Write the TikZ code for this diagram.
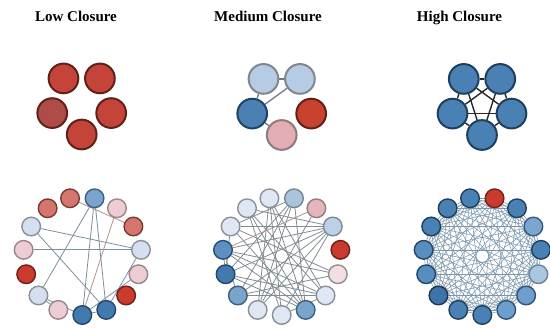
\documentclass[tikz,border=0pt]{standalone}
\usepackage{fontspec}
\setmainfont{Liberation Serif}
\usetikzlibrary{backgrounds}
\definecolor{redF}{HTML}{C4443A}\definecolor{redD}{HTML}{5E2218}
\definecolor{dredF}{HTML}{B04C47}
\definecolor{tblueF}{HTML}{B6CCE4}\definecolor{greyD}{HTML}{7F878D}
\definecolor{tdblueF}{HTML}{4A80B2}\definecolor{blueD}{HTML}{1F4466}
\definecolor{tpinkF}{HTML}{E2ADB3}\definecolor{pinkD}{HTML}{8C7B7C}
\definecolor{hF}{HTML}{4A81B4}\definecolor{hD}{HTML}{1F3F5C}
\tikzset{
  big/.style={circle, minimum size=29.7pt, inner sep=0pt, line width=2pt},
  small/.style={circle, minimum size=18.6pt, inner sep=0pt, line width=1.4pt},
  title/.style={font=\bfseries\fontsize{15}{18}\selectfont, anchor=base},
  dblue/.style={fill={rgb,255:red,66;green,121;blue,174}, draw={rgb,255:red,36;green,70;blue,106}},
  hblue/.style={fill={rgb,255:red,74;green,129;blue,180}, draw={rgb,255:red,31;green,63;blue,92}},
  hblue2/.style={fill={rgb,255:red,86;green,142;blue,192}, draw={rgb,255:red,36;green,70;blue,106}},
  hblue3/.style={fill={rgb,255:red,110;green,158;blue,203}, draw={rgb,255:red,50;green,84;blue,118}},
  hblue4/.style={fill={rgb,255:red,122;green,166;blue,208}, draw={rgb,255:red,56;green,90;blue,124}},
  hblue5/.style={fill={rgb,255:red,169;green,198;blue,226}, draw={rgb,255:red,110;green,130;blue,150}},
  hdark/.style={fill={rgb,255:red,61;green,116;blue,168}, draw={rgb,255:red,28;green,56;blue,86}},
  mblue/.style={fill={rgb,255:red,121;green,164;blue,204}, draw={rgb,255:red,61;green,95;blue,128}},
  m2blue/.style={fill={rgb,255:red,93;green,143;blue,192}, draw={rgb,255:red,40;green,76;blue,110}},
  sblue/.style={fill={rgb,255:red,169;green,196;blue,223}, draw={rgb,255:red,120;green,132;blue,142}},
  s2blue/.style={fill={rgb,255:red,188;green,209;blue,231}, draw={rgb,255:red,128;green,136;blue,144}},
  lblue/.style={fill={rgb,255:red,212;green,224;blue,240}, draw={rgb,255:red,138;green,144;blue,150}},
  wblue/.style={fill={rgb,255:red,223;green,231;blue,244}, draw={rgb,255:red,138;green,144;blue,150}},
  pink/.style={fill={rgb,255:red,236;green,205;blue,211}, draw={rgb,255:red,154;green,133;blue,135}},
  mpink/.style={fill={rgb,255:red,228;green,181;blue,186}, draw={rgb,255:red,150;green,124;blue,126}},
  vpink/.style={fill={rgb,255:red,241;green,223;blue,227}, draw={rgb,255:red,150;green,140;blue,142}},
  rlight/.style={fill={rgb,255:red,212;green,117;blue,111}, draw={rgb,255:red,122;green,58;blue,51}},
  red/.style={fill={rgb,255:red,200;green,59;blue,45}, draw={rgb,255:red,110;green,34;blue,24}},
  edge/.style={draw={rgb,255:red,123;green,143;blue,156}, line width=0.8pt},
  bedge/.style={draw={rgb,255:red,176;green,146;blue,142}, line width=0.8pt},
  medge/.style={draw={rgb,255:red,130;green,140;blue,146}, line width=0.8pt},
  hedge/.style={draw={rgb,255:red,125;green,152;blue,173}, line width=0.55pt},
  tedge/.style={draw={rgb,255:red,111;green,122;blue,128}, line width=1.3pt},
  kedge/.style={draw={rgb,255:red,40;green,40;blue,40}, line width=1.4pt},
}
\begin{document}
\begin{tikzpicture}[x=1pt,y=-1pt]
\useasboundingbox (0,0) rectangle (550,329);
% titles
\node[title] (t1) at (76,22) {Low Closure};
\node[title] (t2) at (268,22) {Medium Closure};
\node[title] (t3) at (459.5,22) {High Closure};
% ---------- top row ----------
\begin{scope}[shift={(81.7,103.5)}]
  \node[big, fill=redF, draw=redD] (a1) at (234:31) {};
  \node[big, fill=redF, draw=redD] (a2) at (306:31) {};
  \node[big, fill=redF, draw=redD] (a3) at (18:31) {};
  \node[big, fill=redF, draw=redD] (a4) at (90:31) {};
  \node[big, fill=dredF, draw=redD] (a5) at (162:31) {};
\end{scope}
\begin{scope}[shift={(281.7,104)}]
  \node[big, fill=tblueF, draw=greyD] (b1) at (234:31) {};
  \node[big, fill=tblueF, draw=greyD] (b2) at (306:31) {};
  \node[big, fill={rgb,255:red,201;green,65;blue,47}, draw=redD] (b3) at (18:31) {};
  \node[big, fill=tpinkF, draw=pinkD] (b4) at (90:31) {};
  \node[big, fill=tdblueF, draw=blueD] (b5) at (162:31) {};
\end{scope}
\begin{pgfonlayer}{background}
  \draw[tedge] (b1) -- (b2);
  \draw[tedge] (b1) -- (b5);
  \draw[tedge] (b2) -- (b5);
  \draw[tedge] (b5) -- (b4);
\end{pgfonlayer}
\begin{scope}[shift={(482,104)}]
  \foreach \i/\a in {1/234,2/306,3/18,4/90,5/162}
    \node[big, fill=hF, draw=hD] (c\i) at (\a:31) {};
\end{scope}
\begin{pgfonlayer}{background}
  \foreach \i/\j in {1/2,1/3,1/4,1/5,2/3,2/4,2/5,3/4,3/5,4/5}
    \draw[kedge] (c\i) -- (c\j);
\end{pgfonlayer}
% ---------- bottom row: low ----------
\begin{scope}[shift={(82.3,256)}]
  \foreach \k/\s in {0/dblue,1/pink,2/lblue,3/red,4/pink,5/lblue,6/rlight,7/rlight,8/mblue,9/pink,10/rlight,11/lblue,12/pink,13/red,14/dblue}
    \node[small,\s] (L\k) at (90+24*\k:59) {};
\end{scope}
\begin{pgfonlayer}{background}
  \foreach \i/\j in {8/0,8/14,8/2,5/11,4/11,5/14,11/14,12/0,2/1,0/14,2/0}
    \draw[edge] (L\i) -- (L\j);
  \foreach \i/\j in {7/10,9/0}
    \draw[bedge] (L\i) -- (L\j);
\end{pgfonlayer}
% ---------- bottom row: medium ----------
\begin{scope}[shift={(281.7,256)}]
  \foreach \k/\s in {0/wblue,1/wblue,2/mblue,3/dblue,4/m2blue,5/wblue,6/wblue,7/wblue,8/sblue,9/mpink,10/s2blue,11/red,12/vpink,13/wblue,14/mblue}
    \node[small,\s] (M\k) at (90+24*\k:59) {};
\end{scope}
\begin{pgfonlayer}{background}
  \foreach \i/\j in {5/10,2/13,4/10,4/13,4/14,3/10,3/13,3/14,2/10,2/8,1/7,1/8,0/7,0/10,14/8,14/6,14/5,13/6,13/7,12/5,12/2,10/6,8/3,6/0,9/1,4/2,3/5,0/13,14/7,12/4,1/10,5/8,3/4}
    \draw[medge] (M\i) -- (M\j);
  \draw[bedge] (M4) -- (M9);
\end{pgfonlayer}
% ---------- bottom row: high ----------
\begin{scope}[shift={(482.3,256)}]
  \foreach \k/\s in {0/hblue,1/hblue,2/hdark,3/hblue2,4/hblue2,5/hblue,6/hblue,7/hblue,8/red,9/hblue,10/hblue4,11/hblue,12/hblue5,13/hblue3,14/hblue3}
    \node[small,\s] (H\k) at (90+24*\k:59) {};
\end{scope}
\begin{pgfonlayer}{background}
  \foreach \i in {0,...,13}{
    \pgfmathtruncatemacro\nxt{\i+1}
    \foreach \j in {\nxt,...,14}
      \draw[hedge] (H\i) -- (H\j);
  }
\end{pgfonlayer}
\end{tikzpicture}
\end{document}
